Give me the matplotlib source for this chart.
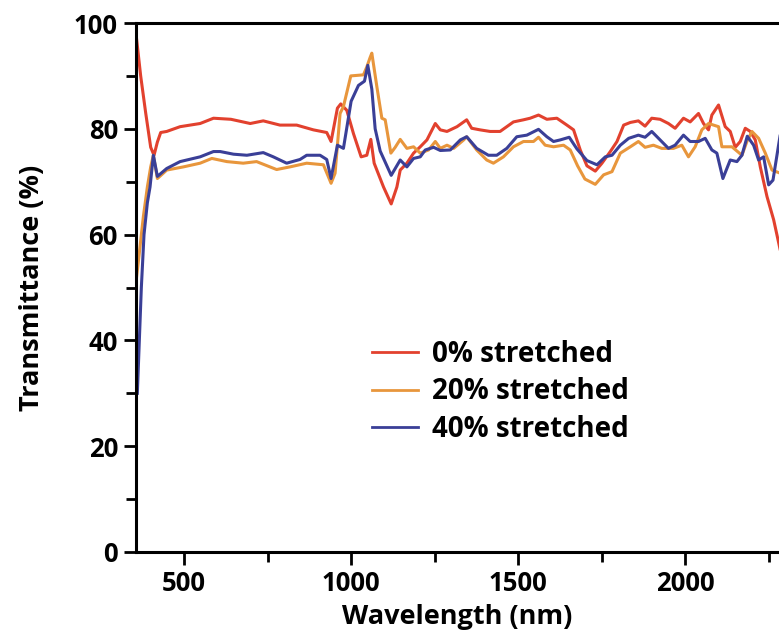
import matplotlib
matplotlib.use("Agg")
import matplotlib.pyplot as plt
from matplotlib.ticker import MultipleLocator

plt.rcParams['font.family'] = ['Open Sans', 'DejaVu Sans']

# 0% stretched
red_wl = [356, 370, 385, 400, 410, 420, 430, 448, 488, 548, 588, 640, 698, 737, 787, 837, 887, 927,
          940, 959, 969, 987, 1007, 1030, 1047, 1059, 1069, 1097, 1120, 1137, 1147, 1167, 1187, 1207,
          1227, 1252, 1267, 1287, 1317, 1346, 1361, 1386, 1416, 1446, 1466, 1486, 1516, 1536, 1561,
          1586, 1616, 1646, 1666, 1686, 1706, 1731, 1751, 1776, 1796, 1816, 1836, 1860, 1880, 1900,
          1925, 1950, 1970, 1995, 2015, 2040, 2055, 2070, 2080, 2100, 2120, 2135, 2150, 2165, 2180,
          2195, 2210, 2225, 2245, 2265, 2285]
red_T = [98, 90, 83, 76.5, 75, 77.5, 79.3, 79.5, 80.4, 81, 82, 81.8, 81, 81.5, 80.7, 80.7, 79.8, 79.3,
         77.6, 83.9, 84.7, 83.5, 79.1, 74.7, 75, 78, 73.5, 69, 65.8, 69, 72.2, 73.5, 75.4, 76.6,
         77.9, 81, 79.8, 79.5, 80.4, 81.7, 80.1, 79.8, 79.5, 79.5, 80.4, 81.3, 81.7, 82, 82.6,
         81.8, 82, 80.7, 79.8, 76, 73, 72, 73.5, 75.7, 77.6, 80.7, 81.2, 81.5, 80.5, 82,
         81.8, 81, 80.1, 82, 81.3, 82.9, 81, 79.8, 82.6, 84.5, 80.4, 79.5, 76.5, 77.6, 80.1,
         79.5, 77.9, 72.8, 67.2, 62.8, 57]

# 20% stretched
org_wl = [356, 365, 378, 390, 400, 408, 420, 448, 498, 548, 583, 628, 677, 717, 777, 817, 867, 917,
          940, 952, 967, 977, 999, 1037, 1047, 1057, 1062, 1077, 1092, 1102, 1119, 1132, 1147, 1167,
          1187, 1207, 1232, 1252, 1267, 1287, 1307, 1337, 1346, 1376, 1406, 1426, 1456, 1486, 1516,
          1546, 1561, 1581, 1606, 1636, 1656, 1678, 1700, 1731, 1756, 1781, 1806, 1836, 1860, 1880,
          1905, 1930, 1965, 1990, 2010, 2030, 2050, 2070, 2085, 2100, 2110, 2140, 2170, 2185, 2200,
          2220, 2240, 2260, 2285]
org_T = [51, 56, 63.4, 69, 72.8, 75, 70.6, 72.2, 72.8, 73.5, 74.4, 73.8, 73.5, 73.8, 72.3, 72.8, 73.5, 73.2,
         69.7, 71.6, 82.9, 84.2, 90, 90.2, 91.7, 93.5, 94.3, 88, 82, 81.7, 75.4, 76.5, 78, 76.3,
         76.6, 75.4, 76, 77.6, 76.3, 76.9, 76.3, 77.9, 78.5, 76, 74.1, 73.5, 74.7, 76.6, 77.6,
         77.6, 78.4, 76.9, 76.6, 76.9, 76, 73, 70.5, 69.5, 71.3, 71.9, 75.4, 76.6, 77.6, 76.5,
         76.9, 76.3, 76.3, 76.9, 74.7, 76.6, 79.8, 81, 80.7, 80.4, 76.6, 76.6, 75, 77.6, 79.5,
         78.2, 75.4, 72.2, 71.6]

# 40% stretched
blu_wl = [360, 366, 372, 380, 390, 398, 408, 420, 448, 488, 548, 588, 608, 648, 688, 737, 767, 807,
          847, 867, 907, 927, 940, 959, 977, 1000, 1022, 1040, 1050, 1062, 1072, 1087, 1120, 1147,
          1167, 1187, 1207, 1222, 1247, 1267, 1297, 1327, 1346, 1376, 1411, 1436, 1466, 1496, 1526,
          1561, 1586, 1606, 1626, 1653, 1676, 1706, 1736, 1761, 1781, 1806, 1831, 1860, 1880, 1900,
          1925, 1950, 1970, 1995, 2015, 2040, 2060, 2080, 2095, 2113, 2135, 2155, 2170, 2186, 2205,
          2220, 2235, 2250, 2263, 2285]
blu_T = [30, 40, 50, 60, 66, 69, 75, 71, 72.5, 73.8, 74.7, 75.7, 75.7, 75.2, 75, 75.5, 74.7, 73.5,
         74.2, 75, 75, 74.2, 70.6, 76.9, 76.3, 85.2, 88.2, 89, 92, 87.5, 80, 75.8, 71.2, 74.1,
         72.8, 74.4, 74.7, 76, 76.5, 75.9, 76, 77.9, 78.5, 76.3, 75, 75, 76.3, 78.5, 78.8,
         79.9, 78.5, 77.6, 77.9, 78.4, 76.2, 74, 73.2, 74.7, 75, 76.9, 78.2, 78.8, 78.4, 79.5,
         77.9, 76.3, 76.9, 78.8, 77.6, 77.6, 78.2, 76, 75.4, 70.6, 74.1, 73.8, 75, 78.6, 76.9,
         74.1, 74.7, 69.4, 70.3, 79]

labels = ['0% stretched', '20% stretched', '40% stretched']
colors = ['#e2412e', '#e8963c', '#3a3f97']

fig = plt.figure(figsize=(7.79, 6.4), dpi=100)
ax = fig.add_axes([136 / 779, 88 / 640, 643 / 779, 529 / 640])

for wl, T, lab, c in zip([red_wl, org_wl, blu_wl], [red_T, org_T, blu_T], labels, colors):
    ax.plot(wl, T, color=c, lw=2.2, label=lab)

ax.set_xlim(356, 2281)
ax.set_ylim(0, 100)
ax.xaxis.set_major_locator(MultipleLocator(500))
ax.xaxis.set_minor_locator(MultipleLocator(250))
ax.yaxis.set_major_locator(MultipleLocator(20))
ax.yaxis.set_minor_locator(MultipleLocator(10))

ax.spines['right'].set_visible(False)
for s in ['left', 'top', 'bottom']:
    ax.spines[s].set_linewidth(2.2)
ax.tick_params(which='major', length=9, width=2, labelsize=18.5, pad=4)
ax.tick_params(which='minor', length=7, width=2)
for t in ax.get_xticklabels() + ax.get_yticklabels():
    t.set_fontweight('bold')

ax.set_xlabel('Wavelength (nm)', fontsize=19.5, fontweight='bold', labelpad=5)
ax.set_ylabel('Transmittance (%)', fontsize=19.5, fontweight='bold', labelpad=21)

leg = ax.legend(loc='upper left', bbox_to_anchor=((372 - 136) / 643, (552 - 340) / 529),
                frameon=False, fontsize=20, handlelength=1.65, handletextpad=0.5,
                labelspacing=0.3, borderpad=0, borderaxespad=0)
for t in leg.get_texts():
    t.set_fontweight('bold')
for l in leg.get_lines():
    l.set_linewidth(2)

fig.savefig('out.png', dpi=100)
